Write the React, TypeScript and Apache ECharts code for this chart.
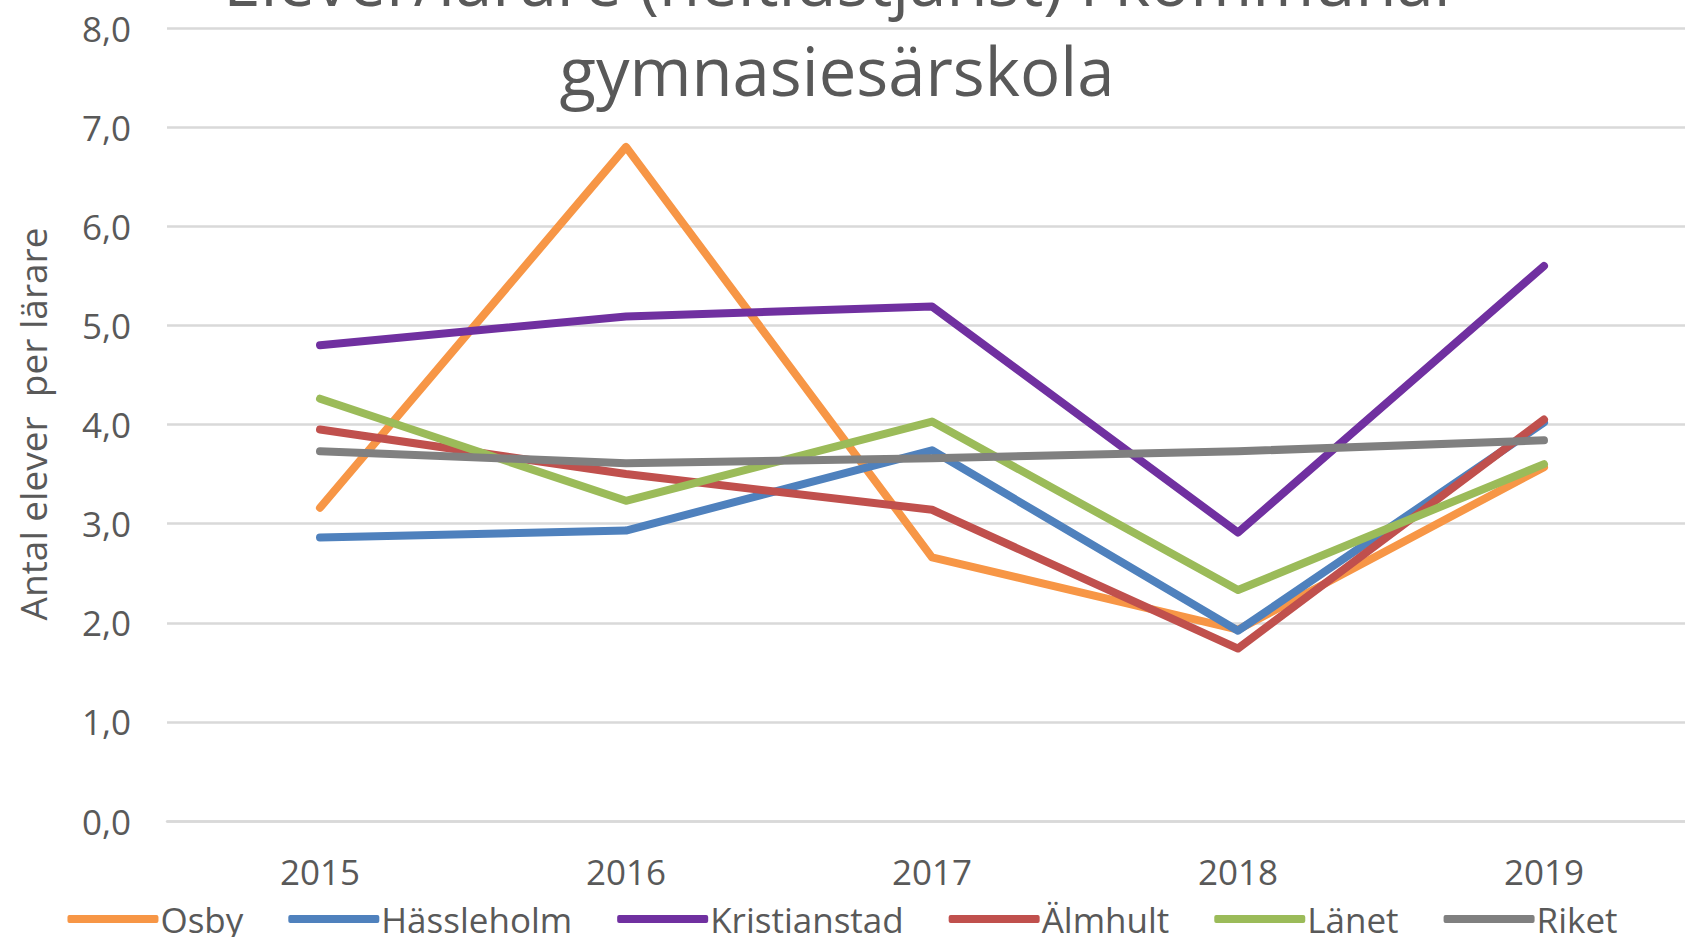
import React, { useEffect, useRef } from "react";
import * as echarts from "echarts";

const years = ["2015", "2016", "2017", "2018", "2019"];
const osby = [3.16, 6.8, 2.66, 1.93, 3.57];
const hassleholm = [2.86, 2.93, 3.74, 1.92, 4.02];
const kristianstad = [4.8, 5.09, 5.19, 2.91, 5.6];
const almhult = [3.95, 3.5, 3.14, 1.74, 4.05];
const lanet = [4.26, 3.23, 4.03, 2.33, 3.6];
const riket = [3.73, 3.61, 3.66, 3.73, 3.84];

const seriesNames = ["Osby", "Hässleholm", "Kristianstad", "Älmhult", "Länet", "Riket"];
const seriesColors = ["#F79646", "#4F81BD", "#7030A0", "#C0504D", "#9BBB59", "#808080"];
const seriesData = [osby, hassleholm, kristianstad, almhult, lanet, riket];

const titleLine1 = "Elever/lärare (heltidstjänst) i kommunal";
const titleLine2 = "gymnasiesärskola";
const yAxisTitle = "Antal elever  per lärare";

const FONT = "'Open Sans', 'Noto Sans', sans-serif";
const TEXT = "#595959";

export default function App() {
  const ref = useRef<HTMLDivElement>(null);
  useEffect(() => {
    if (!ref.current) return;
    const chart = echarts.init(ref.current, undefined, { renderer: "svg" });
    chart.setOption({
      animation: false,
      backgroundColor: "#ffffff",
      grid: {
        left: 167,
        width: 1530,
        top: 28,
        bottom: 116,
        containLabel: false,
        outerBoundsMode: "none",
      },
      xAxis: {
        type: "category",
        data: years,
        boundaryGap: true,
        axisTick: { show: false },
        axisLine: { show: true, lineStyle: { color: "#d9d9d9", width: 2.5 } },
        axisLabel: {
          color: TEXT,
          fontFamily: FONT,
          fontSize: 35,
          lineHeight: 40,
          margin: 30,
        },
      },
      yAxis: {
        type: "value",
        min: 0,
        max: 8,
        interval: 1,
        axisLine: { show: false },
        axisTick: { show: false },
        splitLine: { show: true, lineStyle: { color: "#d9d9d9", width: 2.5 } },
        axisLabel: {
          color: TEXT,
          fontFamily: FONT,
          fontSize: 35,
          margin: 36,
          formatter: (v: number) => v.toFixed(1).replace(".", ","),
        },
      },
      legend: {
        data: seriesNames,
        left: "center",
        top: 892,
        icon: "roundRect",
        itemWidth: 91,
        itemHeight: 8,
        itemGap: 45,
        textStyle: { color: TEXT, fontFamily: FONT, fontSize: 35, lineHeight: 40, padding: [0, 0, 4, -3] },
      },
      graphic: [
        {
          type: "text",
          x: 837,
          y: -20,
          style: {
            text: titleLine1,
            fill: TEXT,
            font: `67px ${FONT}`,
            align: "center",
            verticalAlign: "middle",
          },
        },
        {
          type: "text",
          x: 837,
          y: 70,
          style: {
            text: titleLine2,
            fill: TEXT,
            font: `67px ${FONT}`,
            align: "center",
            verticalAlign: "middle",
          },
        },
        {
          type: "text",
          x: 32,
          y: 424,
          rotation: Math.PI / 2,
          style: {
            text: yAxisTitle,
            fill: TEXT,
            font: `37px ${FONT}`,
            align: "center",
            verticalAlign: "middle",
          },
        },
      ],
      series: seriesNames.map((name, i) => ({
        name,
        type: "line",
        data: seriesData[i],
        showSymbol: false,
        symbol: "none",
        color: seriesColors[i],
        lineStyle: { color: seriesColors[i], width: 8, cap: "round", join: "round" },
        z: 2 + i,
      })),
    });
    return () => chart.dispose();
  }, []);
  return (
    <div
      ref={ref}
      style={{ position: "fixed", left: 0, top: 0, width: 1685, height: 937, background: "#fff" }}
    />
  );
}
